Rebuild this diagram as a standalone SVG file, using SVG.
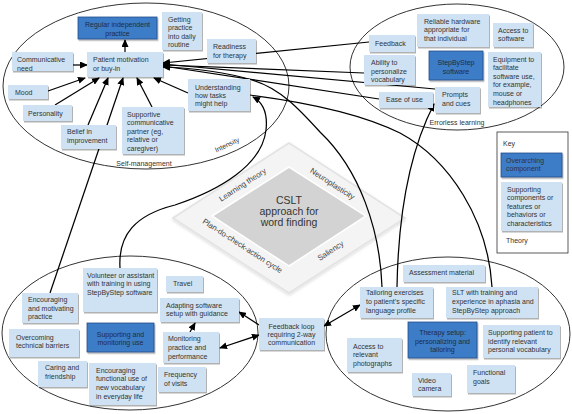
<svg xmlns="http://www.w3.org/2000/svg" width="572" height="414" viewBox="0 0 572 414">
<defs>
<filter id="sh" x="-10%" y="-10%" width="130%" height="140%"><feDropShadow dx="1" dy="1.5" stdDeviation="0.7" flood-color="#000" flood-opacity="0.3"/></filter>
<filter id="sh2" x="-10%" y="-10%" width="130%" height="130%"><feDropShadow dx="0" dy="1.5" stdDeviation="1.5" flood-color="#000" flood-opacity="0.15"/></filter>
<marker id="ah" markerUnits="userSpaceOnUse" markerWidth="8" markerHeight="7" refX="7" refY="3.5" orient="auto-start-reverse"><path d="M0,0 L8,3.5 L0,7 z" fill="#000"/></marker>
</defs>
<style>
.ell{fill:none;stroke:#333;stroke-width:1}
.lb{fill:#cfe2f3;filter:url(#sh)}
.db{fill:#3d7cc6;stroke:#234f8a;stroke-width:0.8;filter:url(#sh)}
text{font-family:"Liberation Sans",Arial,sans-serif;font-size:7px;fill:#333}
.dt{fill:#1d2c44;text-anchor:middle}
.c{text-anchor:middle}
.lab{fill:#444;font-size:7.8px}
.cn path{fill:none;stroke:#000;stroke-width:1.25}
.ar{marker-end:url(#ah)}
.ar2{marker-start:url(#ah);marker-end:url(#ah)}
.big{font-size:10.5px;fill:#333;text-anchor:middle}
</style>
<rect width="572" height="414" fill="#fff"/>
<g id="ellipses">
<ellipse class="ell" cx="146" cy="86" rx="143" ry="83"/>
<ellipse class="ell" cx="457" cy="67" rx="107" ry="63"/>
<ellipse class="ell" cx="130" cy="333" rx="128" ry="77"/>
<ellipse class="ell" cx="448" cy="334" rx="122" ry="77"/>
</g>
<g id="theory">
<polygon points="173,218 289,143 405,218 289,293" fill="#f4f4f4" stroke="#e3e3e3" stroke-width="1.5" filter="url(#sh2)"/>
<polygon points="212,216 289,167 366,216 289,266" fill="#d3d3d3" stroke="#fff" stroke-width="1.5"/>
<text class="big" x="289" y="204">CSLT</text>
<text class="big" x="289" y="215">approach for</text>
<text class="big" x="289" y="226">word finding</text>
<text class="lab c" transform="translate(244,187) rotate(-33)">Learning theory</text>
<text class="lab c" transform="translate(331,186) rotate(33)">Neuroplasticity</text>
<text class="lab c" transform="translate(241,248) rotate(33)">Plan-do-check-action cycle</text>
<text class="lab c" transform="translate(332,253) rotate(-33)">Saliency</text>
</g>
<g id="connectors" class="cn">
<path class="ar" d="M125,52 L125,40"/>
<path class="ar" d="M73,65 L87,65"/>
<path class="ar" d="M48,91 L85,78"/>
<path class="ar" d="M55,105 L99,78"/>
<path class="ar" d="M88,125 L108,78"/>
<path class="ar" d="M50,293 L123,78"/>
<path class="ar" d="M152,107 L137,78"/>
<path class="ar" d="M188,93 L154,78"/>
<path class="ar" d="M369,42 L163,63"/>
<path class="ar" d="M364,73 L163,65"/>
<path class="ar" d="M435,89 L163,64"/>
<path class="ar" d="M379,99 L163,66"/>
<path class="ar" d="M382,287 C380,230 360,170 320,132 C300,110 280,88 252,80 C225,72 190,68 163,67"/>
<path d="M492,287 C488,220 450,160 400,133 C370,118 320,104 250,95"/>
<path class="ar" d="M120,268 C118,235 135,215 175,205 C220,190 262,165 266,130 C268,112 262,102 253,97"/>
<path class="ar" d="M397,287 C398,230 405,160 434,104"/>
<path class="ar" d="M190,332 L195,323"/>
<path class="ar" d="M259,325 L239,312"/>
<path class="ar2" d="M220,348 L259,335"/>
<path class="ar2" d="M324,326 L360,305"/>
</g>
<g id="n-regular"><rect class="db" x="78" y="17" width="79" height="22"/><text class="dt" x="117.5" y="26.5">Regular independent</text><text class="dt" x="117.5" y="35.5">practice</text></g>
<g id="n-getting"><rect class="lb" x="162" y="12" width="40" height="38"/><text x="168" y="21.5">Getting</text><text x="168" y="30">practice</text><text x="168" y="38.5">into daily</text><text x="168" y="47">routine</text></g>
<g id="n-commneed"><rect class="lb" x="12" y="52" width="61" height="19"/><text x="17" y="61.5">Communicative</text><text x="17" y="70.5">need</text></g>
<g id="n-motivation"><rect class="lb" x="87" y="52" width="76" height="25"/><text x="93" y="61.5">Patient motivation</text><text x="93" y="70.5">or buy-in</text></g>
<g id="n-mood"><rect class="lb" x="8" y="85" width="40" height="14"/><text x="15" y="94.5">Mood</text></g>
<g id="n-personality"><rect class="lb" x="23" y="105" width="49" height="16"/><text x="28" y="115.5">Personality</text></g>
<g id="n-belief"><rect class="lb" x="61" y="125" width="55" height="24"/><text x="67" y="133.5">Belief in</text><text x="67" y="142.5">improvement</text></g>
<g id="n-partner"><rect class="lb" x="122" y="107" width="62" height="47"/><text x="127" y="116.5">Supportive</text><text x="127" y="125">communicative</text><text x="127" y="133.5">partner (eg,</text><text x="127" y="142">relative or</text><text x="127" y="150.5">caregiver)</text></g>
<g id="n-readiness"><rect class="lb" x="207" y="39" width="49" height="24"/><text x="213" y="48.5">Readiness</text><text x="213" y="57.5">for therapy</text></g>
<g id="n-understanding"><rect class="lb" x="188" y="79" width="62" height="32"/><text x="195" y="89.5">Understanding</text><text x="195" y="97.5">how tasks</text><text x="195" y="105.5">might help</text></g>
<text x="144" y="165.5" class="c">Self-management</text>
<text class="c" transform="translate(228,147) rotate(-25)">Intensity</text>

<g id="n-hardware"><rect class="lb" x="417" y="14" width="72" height="33"/><text x="424" y="23.5">Reliable hardware</text><text x="424" y="31.5">appropriate for</text><text x="424" y="40.5">that individual</text></g>
<g id="n-access"><rect class="lb" x="493" y="23" width="40" height="24"/><text x="498" y="32.5">Access to</text><text x="498" y="40.5">software</text></g>
<g id="n-feedback"><rect class="lb" x="369" y="35" width="46" height="17"/><text x="375" y="45.5">Feedback</text></g>
<g id="n-ability"><rect class="lb" x="364" y="55" width="51" height="30"/><text x="371" y="64.5">Ability to</text><text x="371" y="73.5">personalize</text><text x="371" y="81.5">vocabulary</text></g>
<g id="n-stepbystep"><rect class="db" x="429" y="51" width="54" height="29"/><text class="dt" x="456" y="64.5">StepByStep</text><text class="dt" x="456" y="73.5">software</text></g>
<g id="n-equipment"><rect class="lb" x="488" y="52" width="53" height="55"/><text x="493" y="61.5">Equipment to</text><text x="493" y="70.2">facilitate</text><text x="493" y="78.8">software use,</text><text x="493" y="87.4">for example,</text><text x="493" y="96">mouse or</text><text x="493" y="104.6">headphones</text></g>
<g id="n-ease"><rect class="lb" x="379" y="92" width="54" height="16"/><text x="386" y="101.5">Ease of use</text></g>
<g id="n-prompts"><rect class="lb" x="435" y="87" width="45" height="26"/><text x="442" y="96.5">Prompts</text><text x="442" y="105.5">and cues</text></g>
<text x="457" y="124.5" class="c">Errorless learning</text>

<g id="key">
<rect x="497" y="132" width="71" height="121" fill="#fff" stroke="#333" stroke-width="0.8"/>
<text x="503" y="145.5">Key</text>
<rect class="db" x="501" y="153" width="61" height="24"/><text x="506" y="162.5" fill="#1d2c44">Overarching</text><text x="506" y="170.5" fill="#1d2c44">component</text>
<rect class="lb" x="501" y="182" width="61" height="49"/><text x="507" y="191.5">Supporting</text><text x="507" y="200">components or</text><text x="507" y="208.5">features or</text><text x="507" y="217">behaviors or</text><text x="507" y="225.5">characteristics</text>
<text x="506" y="242.5">Theory</text>
</g>

<g id="n-volunteer"><rect class="lb" x="83" y="268" width="74" height="44"/><text x="87" y="277.5">Volunteer or assistant</text><text x="87" y="285.5">with training in using</text><text x="87" y="294.5">StepByStep software</text></g>
<g id="n-travel"><rect class="lb" x="166" y="276" width="37" height="16"/><text x="173" y="285.5">Travel</text></g>
<g id="n-encmot"><rect class="lb" x="22" y="293" width="56" height="30"/><text x="28" y="301.5">Encouraging</text><text x="28" y="310.5">and motivating</text><text x="28" y="318.5">practice</text></g>
<g id="n-adapting"><rect class="lb" x="160" y="298" width="79" height="24"/><text x="166" y="307.5">Adapting software</text><text x="166" y="315.5">setup with guidance</text></g>
<g id="n-overcoming"><rect class="lb" x="9" y="329" width="70" height="28"/><text x="16" y="339.5">Overcoming</text><text x="16" y="347.5">technical barriers</text></g>
<g id="n-supmon"><rect class="db" x="87" y="323" width="67" height="29"/><text class="dt" x="120.5" y="336.5">Supporting and</text><text class="dt" x="120.5" y="344.5">monitoring use</text></g>
<g id="n-monitoring"><rect class="lb" x="163" y="332" width="56" height="31"/><text x="168" y="340.5">Monitoring</text><text x="168" y="349.5">practice and</text><text x="168" y="358.5">performance</text></g>
<g id="n-caring"><rect class="lb" x="38" y="361" width="49" height="26"/><text x="45" y="369.5">Caring and</text><text x="45" y="378.5">friendship</text></g>
<g id="n-encfun"><rect class="lb" x="89" y="363" width="67" height="42"/><text x="96" y="372.5">Encouraging</text><text x="96" y="380.5">functional use of</text><text x="96" y="389.5">new vocabulary</text><text x="96" y="398.5">in everyday life</text></g>
<g id="n-frequency"><rect class="lb" x="158" y="367" width="48" height="25"/><text x="164" y="376.5">Frequency</text><text x="164" y="385.5">of visits</text></g>
<g id="n-loop"><rect class="lb" x="259" y="318" width="65" height="32"/><text class="c" x="291.5" y="328.5">Feedback loop</text><text class="c" x="291.5" y="336.5">requiring 2-way</text><text class="c" x="291.5" y="344.5">communication</text></g>

<g id="n-assessment"><rect class="lb" x="403" y="265" width="82" height="17"/><text x="409" y="274.5">Assessment material</text></g>
<g id="n-tailoring"><rect class="lb" x="360" y="287" width="73" height="31"/><text x="366" y="294.5">Tailoring exercises</text><text x="366" y="303.5">to patient’s specific</text><text x="366" y="312.5">language profile</text></g>
<g id="n-slt"><rect class="lb" x="446" y="287" width="92" height="31"/><text x="452" y="294.5">SLT with training and</text><text x="452" y="303.5">experience in aphasia and</text><text x="452" y="312.5">StepByStep approach</text></g>
<g id="n-photos"><rect class="lb" x="347" y="338" width="55" height="34"/><text x="353" y="348.5">Access to</text><text x="353" y="356.5">relevant</text><text x="353" y="365.5">photographs</text></g>
<g id="n-setup"><rect class="db" x="408" y="322" width="69" height="36"/><text class="dt" x="442.5" y="334.5">Therapy setup:</text><text class="dt" x="442.5" y="343.5">personalizing and</text><text class="dt" x="442.5" y="351.5">tailoring</text></g>
<g id="n-suppatient"><rect class="lb" x="483" y="325" width="77" height="33"/><text x="488" y="334.5">Supporting patient to</text><text x="488" y="343.5">identify relevant</text><text x="488" y="351.5">personal vocabulary</text></g>
<g id="n-video"><rect class="lb" x="412" y="373" width="39" height="23"/><text x="418" y="382.5">Video</text><text x="418" y="390.5">camera</text></g>
<g id="n-goals"><rect class="lb" x="467" y="365" width="48" height="28"/><text x="473" y="374.5">Functional</text><text x="473" y="383.5">goals</text></g>
</svg>
